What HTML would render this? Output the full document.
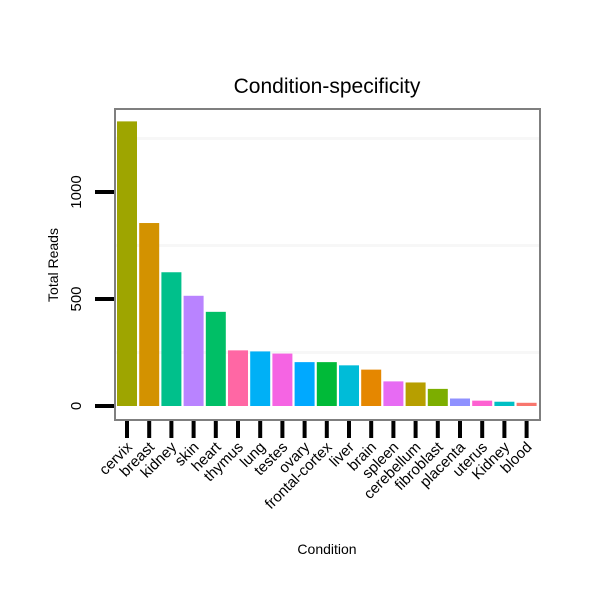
<!DOCTYPE html>
<html><head><meta charset="utf-8"><style>
body{margin:0;background:#fff;}
svg{font-family:"Liberation Sans",sans-serif;}
</style></head><body>
<svg id="chart" width="600" height="600">
<text x="327" y="93" font-size="21" text-anchor="middle">Condition-specificity</text>
<text x="327" y="554" font-size="14" text-anchor="middle">Condition</text>
<text transform="translate(58,265) rotate(-90)" font-size="14" text-anchor="middle">Total Reads</text>
<g id="grid"></g><g id="bars"></g><g id="axes"></g>
<rect x="115" y="109" width="425" height="311" fill="none" stroke="#7f7f7f" stroke-width="2"/>
</svg>
<script>
const categories=["cervix","breast","kidney","skin","heart","thymus","lung","testes","ovary","frontal-cortex","liver","brain","spleen","cerebellum","fibroblast","placenta","uterus","Kidney","blood"];
const values=[1330,855,625,515,440,260,255,245,205,205,190,170,115,110,80,35,25,20,15];
const colors=["#9ea500","#d39200","#00c08b","#b983ff","#00bf66","#ff67a4","#00b0f6","#f564e3","#00a9ff","#00ba38","#00bcd8","#e58700","#e76bf3","#b79f00","#7cae00","#8f91ff","#fd61d1","#00bfc4","#f8766d"];
const yTicks=[0,500,1000];
const yGrid=[250,750,1250];
const NS="http://www.w3.org/2000/svg";
const y=v=>406-v*(107/500);
const x0=117,step=22.2,bw=20;
const xc=i=>x0+i*step+bw/2;
function mk(t,a,p){const e=document.createElementNS(NS,t);for(const k in a)e.setAttribute(k,a[k]);p.appendChild(e);return e;}
const grid=document.getElementById('grid'),bars=document.getElementById('bars'),axes=document.getElementById('axes');
yGrid.forEach(v=>{const l=mk('line',{x1:115,x2:540,y1:y(v),y2:y(v),stroke:'#f7f7f7','stroke-width':3},grid);

});
values.forEach((v,i)=>{const r=mk('rect',{x:x0+i*step,y:y(v),width:bw,height:406-y(v),fill:colors[i]},bars);


const t=mk('line',{x1:xc(i),x2:xc(i),y1:421,y2:438,stroke:'#000','stroke-width':4},axes);


const lb=mk('text',{transform:`translate(${xc(i)+6},${448}) rotate(-45)`,'font-size':15,'text-anchor':'end'},axes);
lb.textContent=categories[i];

});
yTicks.forEach(v=>{const t=mk('line',{x1:95,x2:114,y1:y(v),y2:y(v),stroke:'#000','stroke-width':4},axes);


const lb=mk('text',{transform:`translate(${81},${y(v)}) rotate(-90)`,'font-size':15,'text-anchor':'middle'},axes);
lb.textContent=v;

});
</script>
</body></html>
